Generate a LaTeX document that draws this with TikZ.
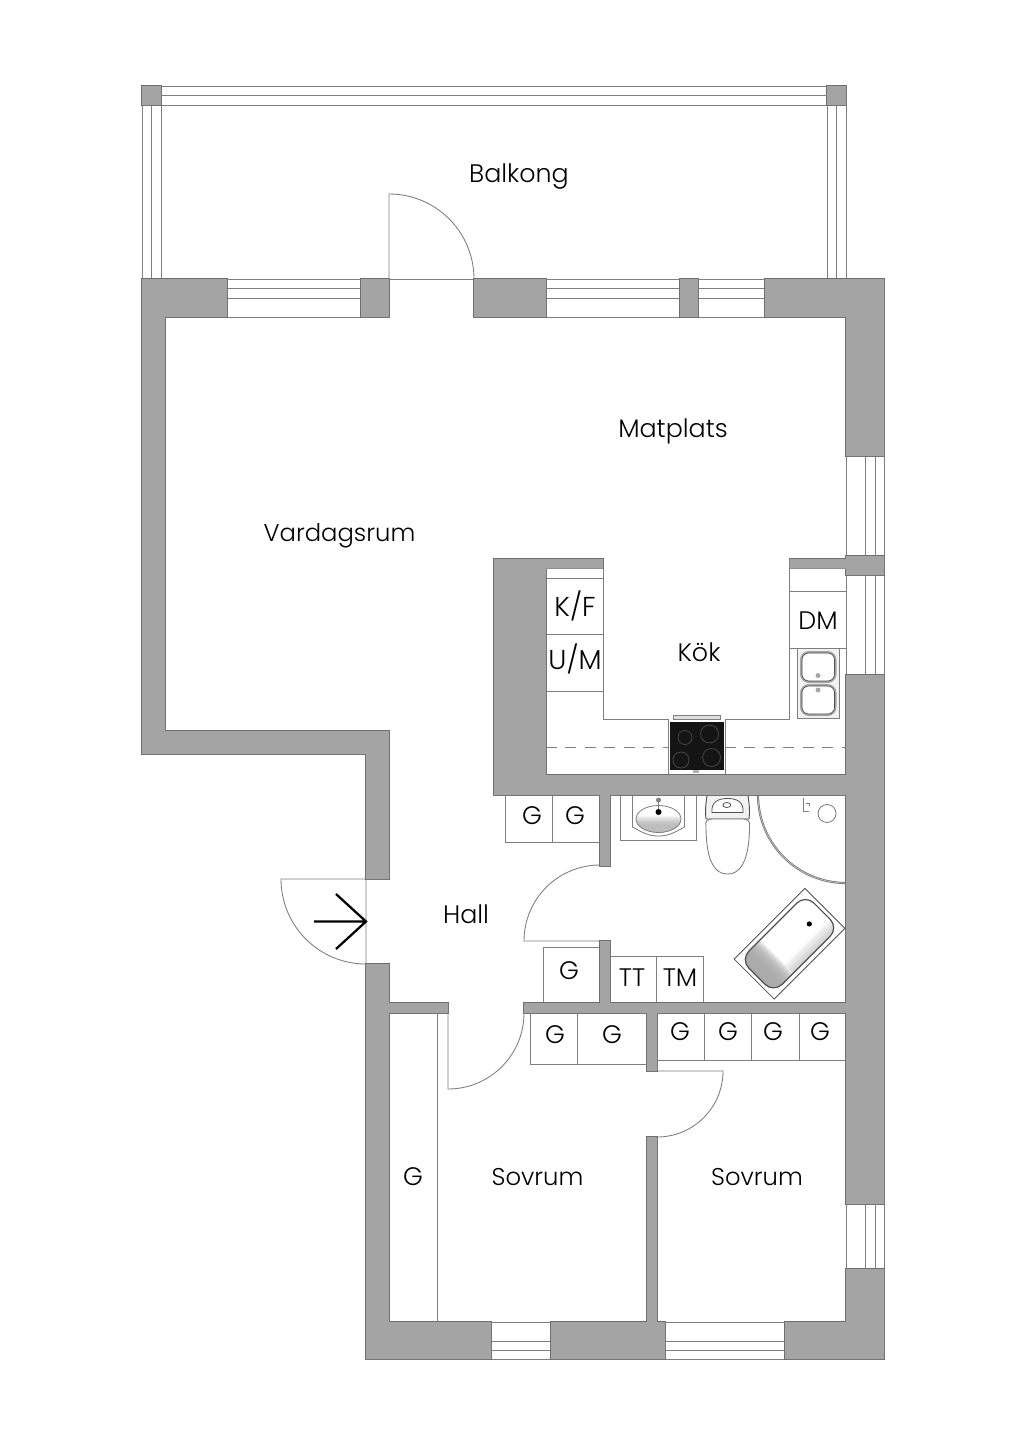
\documentclass[tikz,border=0pt]{standalone}
\usepackage{fontspec}
\setmainfont[UprightFont=* Light]{Poppins}
\definecolor{wallfill}{HTML}{A4A4A4}
\definecolor{wallline}{HTML}{6E6E6E}
\definecolor{thin}{HTML}{7E7E7E}
\definecolor{rim}{HTML}{505050}
\definecolor{shadegray}{HTML}{ABABAB}
\newcommand{\wallrects}{
 (142,279) rectangle (227,317) (361,279) rectangle (389,317) (474,279) rectangle (546,317)
 (680,279) rectangle (698,317) (765,279) rectangle (884,317)
 (142,279) rectangle (165,754) (142,731) rectangle (389,754)
 (366,731) rectangle (389,879) (366,964) rectangle (389,1359)
 (366,1322) rectangle (491,1359) (551,1322) rectangle (665,1359) (785,1322) rectangle (884,1359)
 (846,279) rectangle (884,456) (846,556) rectangle (884,575) (846,675) rectangle (884,1204) (846,1269) rectangle (884,1359)
 (494,559) rectangle (546,795) (494,559) rectangle (603,568.5) (789.5,559) rectangle (846,568.5) (494,775) rectangle (846,795)
 (600,795) rectangle (610,866) (600,941) rectangle (610,1003)
 (389,1003) rectangle (448,1013) (524,1003) rectangle (846,1013)
 (647,1013) rectangle (657,1071) (647,1137) rectangle (657,1322)
 (142,86) rectangle (161,105) (827,86) rectangle (846,105)
}
\newcommand{\hwin}[2]{\draw[winline] (#1,279)--(#2,279) (#1,288.5)--(#2,288.5) (#1,298)--(#2,298) (#1,317)--(#2,317);}
\newcommand{\bwin}[2]{\draw[winline] (#1,1322)--(#2,1322) (#1,1341)--(#2,1341) (#1,1350)--(#2,1350) (#1,1359)--(#2,1359);}
\newcommand{\vwin}[2]{\draw[winline] (846,#1)--(846,#2) (865,#1)--(865,#2) (875,#1)--(875,#2) (884,#1)--(884,#2);}
\tikzset{
 winline/.style={draw=thin,line width=.75pt},
 fine/.style={draw=thin,line width=.65pt},
 lab/.style={font=\fontsize{19}{22}\selectfont,text=black,inner sep=0pt,anchor=center},
 slimlab/.style={font=\fontsize{18.2}{22}\selectfont,text=black,inner sep=0pt,anchor=center},
 slab/.style={font=\fontsize{19}{22}\selectfont,text=black,inner sep=0pt,anchor=center},
 widelab/.style={font=\fontsize{20.5}{22}\selectfont,text=black,inner sep=0pt,anchor=center},
}
\begin{document}
\begin{tikzpicture}[x=.75pt,y=-.75pt]
\useasboundingbox (0,0) rectangle (1024,1449);
\fill[white] (0,0) rectangle (1024,1449);

% balcony rails
\draw[winline] (142,86)--(846,86) (142,95.5)--(846,95.5) (142,105)--(846,105);
\draw[winline] (142,86)--(142,279) (151.5,105)--(151.5,279) (161,86)--(161,279);
\draw[winline] (827,86)--(827,279) (836.5,105)--(836.5,279) (846,86)--(846,279);

% windows
\hwin{227}{361}\hwin{546}{680}\hwin{698}{765}
\draw[winline] (389,279)--(474,279);
\vwin{456}{556}\vwin{575}{675}\vwin{1204}{1269}
\bwin{491}{551}\bwin{665}{785}

% kitchen fittings lines
\draw[fine] (603,568)--(603,719)--(789.5,719)--(789.5,568);
\draw[fine] (546,578)--(603,578) (546,634)--(603,634) (546,691)--(603,691);
\draw[fine] (789.5,591)--(846,591) (789.5,648)--(846,648);
\draw[draw=thin,line width=.7pt,dash pattern=on 8pt off 6.6pt] (546,747.5)--(669,747.5);
\draw[draw=thin,line width=.7pt,dash pattern=on 8pt off 6.6pt] (725,747.5)--(846,747.5);

% hob
\fill[white] (668,719) rectangle (725,776);
\draw[fine] (668,719)--(668,776) (725,719)--(725,776);
\fill[gray!25,draw=thin,line width=.4pt] (673,715) rectangle (720,719);
\fill[black!92] (669.5,721.5) rectangle (724,770);
\fill[gray!60] (693,770) rectangle (699,772.5);
\draw[draw=black!72,line width=.6pt] (685,737.5) circle[radius=7] (709.5,734) circle[radius=9] (681,760) circle[radius=8] (711.5,757.5) circle[radius=9];

% kitchen sink
\draw[draw=thin,fill=gray!10,line width=.6pt] (797,648.5) rectangle (839.5,718);
\draw[draw=gray!70,fill=white,line width=1.5pt,rounded corners=6pt] (801,652) rectangle (835.5,682);
\draw[draw=gray!70,fill=white,line width=1.5pt,rounded corners=6pt] (801,685) rectangle (835.5,715);
\draw[draw=rim,line width=.5pt,rounded corners=5pt] (802,653) rectangle (834.5,681);
\draw[draw=rim,line width=.5pt,rounded corners=5pt] (802,686) rectangle (834.5,714);
\fill[gray!70] (818,675.5) circle[radius=2.5] (818,690) circle[radius=2.5];

% wardrobes
\draw[fine] (505,795)--(505,842)--(600,842) (552.5,795)--(552.5,842);
\draw[fine] (543,1003)--(543,947)--(600,947);
\draw[fine] (610,956)--(703.5,956)--(703.5,1003) (656.5,956)--(656.5,1003);
\draw[fine] (530,1013)--(530,1064)--(647,1064) (577,1013)--(577,1064);
\draw[fine] (657,1060)--(846,1060) (704,1013)--(704,1060) (751.7,1013)--(751.7,1060) (799,1013)--(799,1060);
\draw[fine] (437,1013)--(437,1322);

% washbasin
\draw[fine] (620,795)--(620,840)--(696.5,840)--(696.5,795);
\draw[fine] (632.5,795)--(632.5,827) .. controls (645,834) and (650,836) .. (658.5,836) .. controls (667,836) and (672,834) .. (684.5,827)--(684.5,795);
\begin{scope}
 \clip (658.5,819) ellipse[x radius=22.5,y radius=13.5];
 \foreach \i in {0,...,9}{\fill[shadegray,opacity=.13] (630,816+\i) rectangle (690,840);}
\end{scope}
\draw[draw=thin,line width=.6pt] (658.5,819) ellipse[x radius=22.5,y radius=13.5];
\draw[draw=gray,line width=.9pt] (658.5,800)--(658.5,812);
\fill[gray] (658.5,800) circle[radius=2.5];
\fill[black] (658.5,812) circle[radius=3];

% toilet
\draw[draw=rim,fill=gray!10,line width=.7pt] (707,795.5) .. controls (705.5,806) and (705,812) .. (706,819) -- (749,819) .. controls (750,812) and (749.5,806) .. (748,795.5) .. controls (740,794.5) and (715,794.5) .. (707,795.5) -- cycle;
\draw[draw=rim,fill=white,line width=.6pt] (712,812.5) .. controls (711,802) and (718,798.5) .. (727.5,798.5) .. controls (737,798.5) and (744,802) .. (743,812.5) -- cycle;
\draw[draw=rim,line width=.6pt] (726.8,805) ellipse[x radius=4,y radius=2.5];
\draw[fine,fill=white] (706,826) .. controls (705,821) and (707,819.5) .. (712,819) -- (743,819) .. controls (748,819.5) and (750,821) .. (749.5,826) .. controls (749.5,850) and (745,874) .. (727.5,874) .. controls (710,874) and (706,850) .. (706,826) -- cycle;

% shower
\draw[draw=black!55,line width=1.6pt] (758,795) .. controls (758,843.6) and (797.4,883) .. (846,883);
\draw[gray!40,line width=.45pt] (758,795) .. controls (758,843.6) and (797.4,883) .. (846,883);
\draw[fine] (827,813.5) circle[radius=9];
\draw[draw=thin,line width=.6pt] (803,798)--(803,811)--(809,811) (805.5,803)--(809,803)--(809,806) (803,795.5)--(809,795.5);

% bathtub
\begin{scope}[shift={(789.5,943.7)},rotate=45]
 \draw[draw=rim,line width=.6pt] (-50,-28.3) rectangle (50,28.3);
 \begin{scope}
  \clip[rounded corners=9pt] (-46,-23.5) rectangle (46,23.5);
  \foreach \i in {0,...,20}{\fill[shadegray,opacity=.16] (-50,-30) rectangle (-38+\i,30);}
  \foreach \i in {0,...,12}{\fill[shadegray,opacity=.05] (-18,11+\i) rectangle (46,30);}
 \end{scope}
 \draw[draw=rim,line width=.9pt,rounded corners=9pt] (-46,-23.5) rectangle (46,23.5);
 \fill[black] (28,0) circle[radius=2.6];
\end{scope}

% doors
\draw[fine] (389,279)--(389,194) .. controls (436,194) and (474,232) .. (474,279);
\draw[fine] (366,879)--(281,879) .. controls (281,926) and (319,964) .. (366,964)--(366,879);
\draw[fine] (600,941)--(524,941) .. controls (524,899) and (558,865) .. (600,865);
\draw[fine] (448,1013)--(448,1089) .. controls (490,1089) and (524,1055) .. (524,1013);
\draw[fine] (657,1071)--(723,1071) .. controls (723,1107.5) and (693.5,1137) .. (657,1137);

% walls
\draw[wallline,line width=.9pt] \wallrects;
\fill[wallfill] \wallrects;
\draw[winline] (161,95.5)--(827,95.5);

% entrance arrow
\draw[black,line width=1.7pt] (314,921.5)--(365,921.5) (336,894)--(366,921.5)--(336,949);

% labels
\node[lab] (balkong) at (519,177) {Balkong};
\node[lab] (matplats) at (673,431.5) {Matplats};
\node[slimlab] (vardagsrum) at (339.5,536) {Vardagsrum};
\node[lab] (kok) at (699,652) {Kök};
\node[lab] (hall) at (466,914) {Hall};
\node[slimlab] (sovruma) at (537.5,1177) {Sovrum};
\node[slimlab] (sovrumb) at (757,1177) {Sovrum};
\node[widelab] (kf) at (575,606) {K/F};
\node[widelab] (um) at (575,659) {U/M};
\node[slab] (dm) at (818,621) {DM};
\node[slab] (tt) at (632,978) {TT};
\node[slab] (tm) at (680,978) {TM};
\node[slab] (g1) at (532,816) {G};
\node[slab] (g2) at (575,816) {G};
\node[slab] (g3) at (569,971) {G};
\node[slab] (g4) at (555,1035) {G};
\node[slab] (g5) at (612,1035) {G};
\node[slab] (g6) at (680,1032) {G};
\node[slab] (g7) at (728,1032) {G};
\node[slab] (g8) at (773,1032) {G};
\node[slab] (g9) at (820,1032) {G};
\node[slab] (g10) at (413,1177) {G};
\end{tikzpicture}
\end{document}
